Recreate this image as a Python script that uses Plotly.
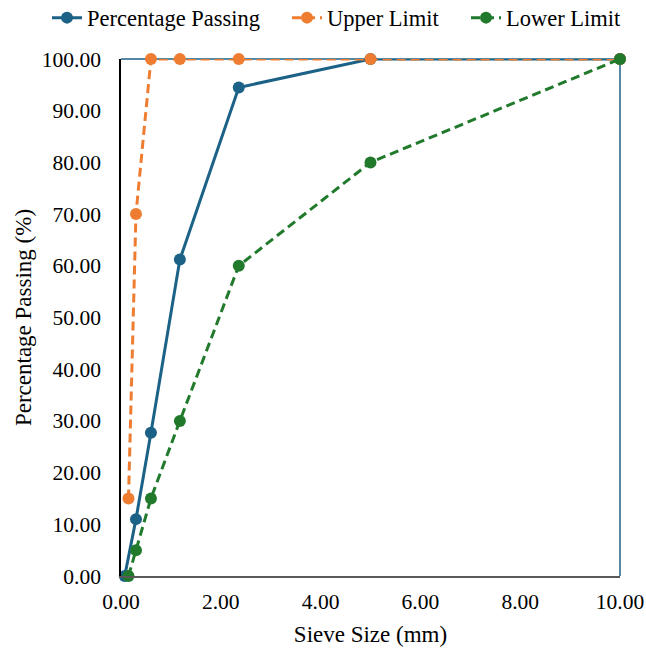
import plotly.graph_objects as go

sieve_pp = [0.075, 0.3, 0.6, 1.18, 2.36, 5.0, 10.0]
pct_passing = [0.0, 11.0, 27.7, 61.2, 94.5, 100.0, 100.0]

sieve_ul = [0.15, 0.3, 0.6, 1.18, 2.36, 5.0, 10.0]
upper_limit = [15.0, 70.0, 100.0, 100.0, 100.0, 100.0, 100.0]

sieve_ll = [0.15, 0.3, 0.6, 1.18, 2.36, 5.0, 10.0]
lower_limit = [0.0, 5.0, 15.0, 30.0, 60.0, 80.0, 100.0]

x_ticks = [0, 2, 4, 6, 8, 10]
y_ticks = [0, 10, 20, 30, 40, 50, 60, 70, 80, 90, 100]

BLUE = "#1c6186"
ORANGE = "#ee7d31"
GREEN = "#217a2c"
FONT = "Liberation Serif"
FS = 21.5
FT = 23
FL = 22.5
DASH = "9px,5px"

fig = go.Figure()
fig.add_trace(go.Scatter(x=sieve_pp, y=pct_passing, name="Percentage Passing",
                         mode="lines+markers", line=dict(color=BLUE, width=3),
                         marker=dict(size=12, color=BLUE), cliponaxis=False,
                         legend="legend"))
fig.add_trace(go.Scatter(x=sieve_ul, y=upper_limit, name="Upper Limit",
                         mode="lines+markers", line=dict(color=ORANGE, width=3, dash=DASH),
                         marker=dict(size=12, color=ORANGE), cliponaxis=False,
                         legend="legend2"))
fig.add_trace(go.Scatter(x=sieve_ll, y=lower_limit, name="Lower Limit",
                         mode="lines+markers", line=dict(color=GREEN, width=3, dash=DASH),
                         marker=dict(size=12, color=GREEN), cliponaxis=False,
                         legend="legend3"))

# plot-area border (top and right)
fig.add_shape(type="line", xref="x domain", yref="y domain", x0=0, x1=1, y0=1, y1=1,
              line=dict(color=BLUE, width=1.5), layer="below")
fig.add_shape(type="line", xref="x domain", yref="y domain", x0=1, x1=1, y0=0, y1=1,
              line=dict(color=BLUE, width=1.5), layer="below")


def leg(xpx):
    return dict(orientation="h", xref="container", yref="container",
                x=xpx / 646, xanchor="left", y=1 - 18 / 649, yanchor="middle",
                font=dict(family=FONT, size=FL), itemwidth=30,
                bgcolor="rgba(0,0,0,0)", borderwidth=0)


fig.update_layout(
    width=646, height=649,
    margin=dict(l=121, r=26, t=59, b=73),
    paper_bgcolor="white", plot_bgcolor="white",
    font=dict(family=FONT, size=FS, color="black"),
    showlegend=True,
    legend=leg(47), legend2=leg(287), legend3=leg(466),
    xaxis=dict(range=[0, 10], tickvals=x_ticks, tickformat=".2f", showgrid=False,
               zeroline=False, showline=True, linecolor="#595959", linewidth=2,
               ticks="", ticklabelstandoff=5, automargin=False,
               title=dict(text="Sieve Size (mm)", font=dict(size=FT), standoff=13),
               tickfont=dict(size=FS)),
    yaxis=dict(range=[0, 100], tickvals=y_ticks, tickformat=".2f", showgrid=False,
               zeroline=False, showline=True, linecolor="black", linewidth=1.5,
               ticks="", ticklabelstandoff=14, automargin=False,
               title=dict(text="Percentage Passing (%)", font=dict(size=FT), standoff=4),
               tickfont=dict(size=FS)),
)

fig.write_html("out.html")
